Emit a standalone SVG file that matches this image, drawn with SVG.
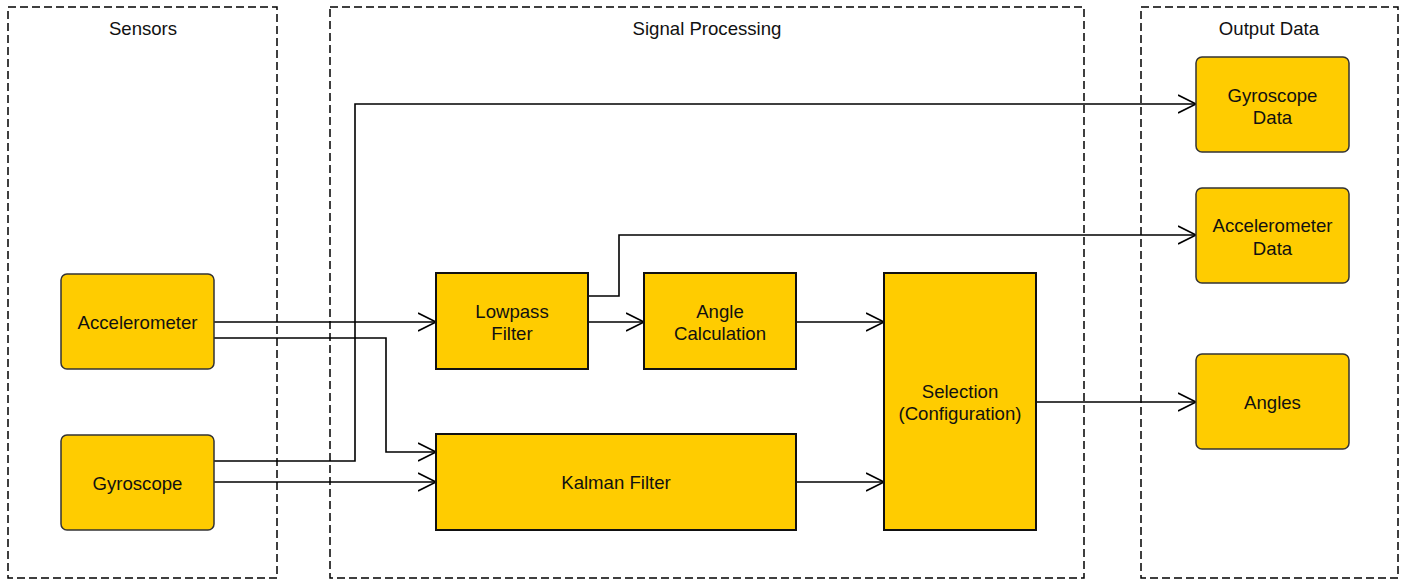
<svg xmlns="http://www.w3.org/2000/svg" width="1407" height="580" viewBox="0 0 1407 580">
<defs>
<style>
.cont{fill:none;stroke:#000;stroke-width:1.5;stroke-dasharray:8,4}
.rnd{fill:#FFCC00;stroke:#333;stroke-width:1.5}
.sq{fill:#FFCC00;stroke:#111;stroke-width:2}
.t{font-family:"Liberation Sans",Arial,sans-serif;font-size:18.6px;fill:#111;text-anchor:middle}
.c{fill:none;stroke:#000;stroke-width:1.6;marker-end:url(#arr)}
</style>
<marker id="arr" markerWidth="20" markerHeight="20" refX="18" refY="10" orient="auto" markerUnits="userSpaceOnUse">
<path d="M0,1 L18,10 L0,19" fill="none" stroke="#000" stroke-width="1.6"/>
</marker>
</defs>
<rect width="1407" height="580" fill="#fff"/>
<g id="containers">
<g id="sensors"><rect class="cont" x="8" y="7" width="269" height="571"/><text class="t" x="143" y="35">Sensors</text></g>
<g id="signal-processing"><rect class="cont" x="330" y="7" width="754" height="571"/><text class="t" x="707" y="35">Signal Processing</text></g>
<g id="output-data"><rect class="cont" x="1141" y="7" width="257" height="571"/><text class="t" x="1269" y="35">Output Data</text></g>
</g>
<g id="connectors">
<path class="c" d="M214,322 H436"/>
<path class="c" d="M214,338 H386 V452 H436"/>
<path class="c" d="M214,461 H355 V104 H1196"/>
<path class="c" d="M214,482 H436"/>
<path class="c" d="M588,322 H644"/>
<path class="c" d="M588,296 H619 V235 H1196"/>
<path class="c" d="M796,322 H884"/>
<path class="c" d="M796,482 H884"/>
<path class="c" d="M1036,402 H1196"/>
</g>
<g id="accelerometer"><rect class="rnd" x="61" y="274" width="153" height="95" rx="6"/><text class="t" x="137.5" y="329">Accelerometer</text></g>
<g id="gyroscope"><rect class="rnd" x="61" y="435" width="153" height="95" rx="6"/><text class="t" x="137.5" y="490">Gyroscope</text></g>
<g id="lowpass"><rect class="sq" x="436" y="273" width="152" height="96"/><text class="t" x="512" y="317.5">Lowpass</text><text class="t" x="512" y="340">Filter</text></g>
<g id="angle-calc"><rect class="sq" x="644" y="273" width="152" height="96"/><text class="t" x="720" y="317.5">Angle</text><text class="t" x="720" y="340">Calculation</text></g>
<g id="kalman"><rect class="sq" x="436" y="434" width="360" height="96"/><text class="t" x="616" y="489">Kalman Filter</text></g>
<g id="selection"><rect class="sq" x="884" y="273" width="152" height="257"/><text class="t" x="960" y="397.5">Selection</text><text class="t" x="960" y="420">(Configuration)</text></g>
<g id="gyro-data"><rect class="rnd" x="1196" y="57" width="153" height="95" rx="6"/><text class="t" x="1272.5" y="101.5">Gyroscope</text><text class="t" x="1272.5" y="124">Data</text></g>
<g id="accel-data"><rect class="rnd" x="1196" y="188" width="153" height="95" rx="6"/><text class="t" x="1272.5" y="232">Accelerometer</text><text class="t" x="1272.5" y="254.5">Data</text></g>
<g id="angles"><rect class="rnd" x="1196" y="354" width="153" height="95" rx="6"/><text class="t" x="1272.5" y="409">Angles</text></g>
</svg>
